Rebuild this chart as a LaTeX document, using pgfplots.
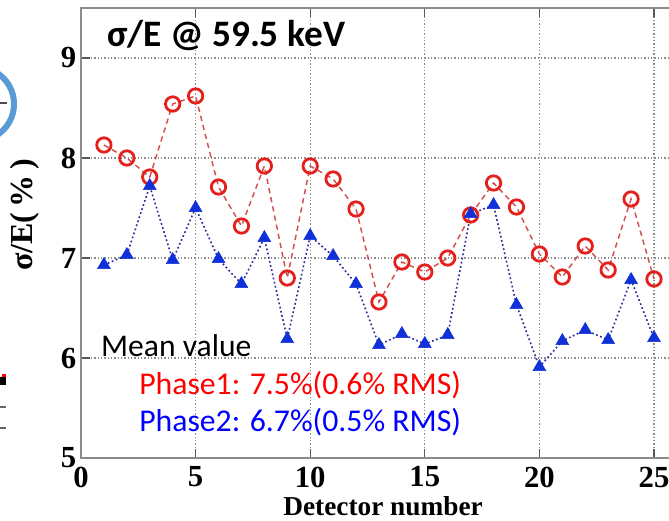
\documentclass[border=0pt]{standalone}
\usepackage{pgfplots}
\pgfplotsset{compat=1.18}
\usepackage{fontspec}
\setmainfont{Liberation Serif}
\newfontfamily\calfont{Carlito}
\definecolor{redm}{HTML}{E4201C}
\definecolor{redl}{HTML}{D45050}
\definecolor{bluem}{HTML}{1030D8}
\definecolor{bluel}{HTML}{2B2B9C}
\definecolor{gridc}{HTML}{8C8C8C}
\definecolor{arcblue}{HTML}{5B9BD5}
\begin{document}
\begin{tikzpicture}
\begin{axis}[
  x=17.19pt, y=75pt,
  xmin=0, xmax=26.5, ymin=5, ymax=9.5,
  axis line style={draw=gridc, line width=1.4pt},
  xtick={0,5,10,15,20,25}, ytick={5,6,7,8,9},
  grid=major,
  major grid style={gridc, line width=0.9pt, dash pattern=on 0.9pt off 1.6pt},
  major tick style={draw=black!65, line width=1pt},
  major tick length=7pt,
  tick align=inside,
  /pgf/number format/assume math mode=true,
  tick label style={font=\bfseries\fontsize{23}{23}\selectfont},
  xticklabel style={yshift=-3pt},
  yticklabel style={xshift=0pt},
  clip=false,
]
\addplot[redl, line width=1.1pt, dash pattern=on 4pt off 3pt,
  mark=o, mark size=5.4pt,
  mark options={solid, draw=redm, fill=white, line width=2.1pt}]
  coordinates {
  (1,8.13) (2,8.00) (3,7.81) (4,8.54) (5,8.62) (6,7.71) (7,7.32) (8,7.92)
  (9,6.80) (10,7.92) (11,7.79) (12,7.49) (13,6.56) (14,6.96) (15,6.86)
  (16,7.00) (17,7.43) (18,7.75) (19,7.51) (20,7.04) (21,6.81) (22,7.12)
  (23,6.88) (24,7.59) (25,6.79)};
\addplot[bluel, line width=1.2pt, dash pattern=on 1.3pt off 1.9pt,
  mark=triangle*, mark size=5.6pt,
  mark options={solid, draw=bluem, fill=bluem, line width=0.4pt}]
  coordinates {
  (1,6.93) (2,7.03) (3,7.72) (4,6.98) (5,7.50) (6,6.99) (7,6.74) (8,7.20)
  (9,6.19) (10,7.22) (11,7.02) (12,6.74) (13,6.13) (14,6.24) (15,6.14)
  (16,6.23) (17,7.44) (18,7.53) (19,6.53) (20,5.91) (21,6.17) (22,6.28)
  (23,6.18) (24,6.78) (25,6.20)};
% texts
\node[anchor=base west, inner sep=0pt] at (axis cs:1.13,9.11)
  {\calfont\bfseries\fontsize{28}{28}\selectfont σ/E @ 59.5 keV};
\node[anchor=base west, inner sep=0pt] at (axis cs:0.87,6.01)
  {\calfont\fontsize{23.7}{23.7}\selectfont Mean value};
\node[anchor=base west, inner sep=0pt, text=red] at (axis cs:2.53,5.64)
  {\calfont\fontsize{23.8}{23.8}\selectfont Phase1: 7.5\%(0.6\% RMS)};
\node[anchor=base west, inner sep=0pt, text=blue] at (axis cs:2.53,5.27)
  {\calfont\fontsize{23.8}{23.8}\selectfont Phase2: 6.7\%(0.5\% RMS)};
\node[rotate=90, inner sep=0pt] at (axis cs:-2.44,7.43)
  {\bfseries\fontsize{24}{24}\selectfont σ/E(\,\%\,)};
\node[inner sep=0pt] at (axis cs:13.18,4.52)
  {\bfseries\fontsize{20.5}{20.5}\selectfont Detector number};
% cropped-neighbour artifacts at the left edge
\draw[arcblue, line width=4.5pt] (axis cs:-4.537,8.54) circle[radius=27.75pt];
\draw[black!70, line width=0.9pt] (axis cs:-3.6,8.55) -- (axis cs:-3.23,8.55);
\fill[black] (axis cs:-3.6,5.73) rectangle (axis cs:-3.27,5.81);
\fill[red] (axis cs:-3.45,5.81) rectangle (axis cs:-3.27,5.84);
\draw[black!60, line width=1pt] (axis cs:-3.6,5.51) -- (axis cs:-3.27,5.51);
\draw[black!60, line width=1pt] (axis cs:-3.6,5.30) -- (axis cs:-3.27,5.30);
\coordinate (BL) at (axis cs:-3.534,4.38);
\coordinate (TR) at (axis cs:25.654,9.58);
\end{axis}
\pgfresetboundingbox
\path[use as bounding box] (BL) rectangle (TR);
\end{tikzpicture}
\end{document}
